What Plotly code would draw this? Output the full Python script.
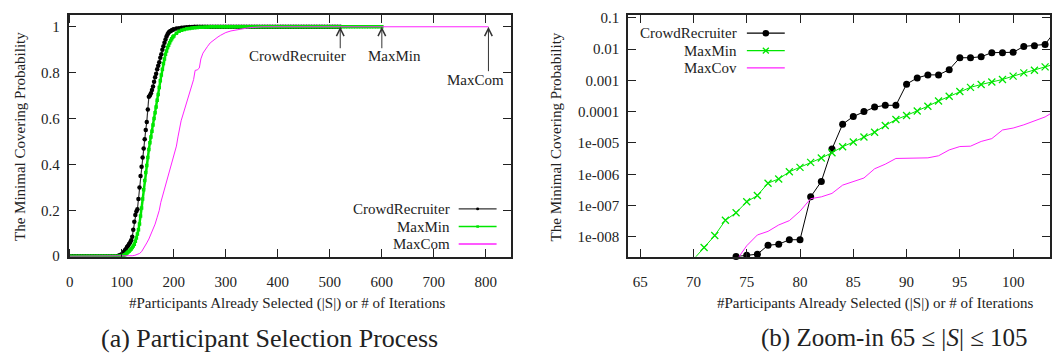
import plotly.graph_objects as go

# ---------------- panel (a): full selection process ----------------
cr_iter = [0, 5, 10, 15, 20, 25, 30, 35, 40, 45, 50, 55, 60, 65, 70, 75, 80, 85, 90,
           92, 94, 96, 98, 100, 102, 104, 106, 108, 110, 112, 114, 116, 118, 120,
           122, 124, 126, 128, 130, 132, 134, 136, 138, 140, 142, 144, 146, 148, 150,
           152, 154, 156, 158, 160, 162, 164, 166, 168, 170, 172, 174, 176, 178, 180,
           182, 184, 186, 188, 190, 192, 194, 196, 198, 200, 205, 210, 215, 220, 225,
           230, 235, 240, 245, 250, 255, 260, 265, 270, 275, 280, 285, 290, 295, 300,
           305, 310, 315, 320, 325, 330, 335, 340, 345, 350, 355, 360, 365, 370, 375,
           380, 385, 390, 395, 400, 405, 410, 415, 420, 425, 430, 435, 440, 445, 450,
           455, 460, 465, 470, 475, 480, 485, 490, 495, 500, 505, 510, 515, 520]
cr_prob = [0, 0, 0, 0, 0, 0, 0, 0, 0, 0, 0, 0, 0, 0, 0, 0, 0, 0, 0,
           0.001, 0.002, 0.004, 0.006, 0.008, 0.013, 0.019, 0.026, 0.032, 0.040, 0.046, 0.053, 0.060, 0.070, 0.085,
           0.115, 0.150, 0.180, 0.195, 0.205, 0.250, 0.300, 0.350, 0.390, 0.430, 0.470, 0.510, 0.550, 0.585, 0.640,
           0.695, 0.700, 0.710, 0.725, 0.740, 0.760, 0.780, 0.795, 0.815, 0.830, 0.845, 0.865, 0.880, 0.900, 0.915,
           0.930, 0.945, 0.958, 0.968, 0.975, 0.979, 0.982, 0.985, 0.987, 0.989, 0.992, 0.994, 0.996, 0.997, 0.998,
           0.999, 0.999, 1.0, 1.0, 1.0, 1.0, 1.0, 1.0, 1.0, 1.0, 1.0, 1.0, 1.0, 1.0, 1.0,
           1.0, 1.0, 1.0, 1.0, 1.0, 1.0, 1.0, 1.0, 1.0, 1.0, 1.0, 1.0, 1.0, 1.0, 1.0,
           1.0, 1.0, 1.0, 1.0, 1.0, 1.0, 1.0, 1.0, 1.0, 1.0, 1.0, 1.0, 1.0, 1.0, 1.0,
           1.0, 1.0, 1.0, 1.0, 1.0, 1.0, 1.0, 1.0, 1.0, 1.0, 1.0, 1.0, 1.0, 1.0]

mm_iter = [0, 5, 10, 15, 20, 25, 30, 35, 40, 45, 50, 55, 60, 65, 70, 75, 80, 85, 90, 95,
           98, 100, 102, 104, 106, 108, 110, 112, 114, 116, 118, 120, 122, 124, 126, 128,
           130, 132, 134, 136, 138, 140, 142, 144, 146, 148, 150, 152, 154, 156, 158, 160,
           162, 164, 166, 168, 170, 172, 174, 176, 178, 180, 182, 184, 186, 188, 190, 192,
           194, 196, 198, 200, 205, 210, 215, 220, 225, 230, 235, 240, 245, 250, 255, 260,
           265, 270, 275, 280, 285, 290, 295, 300, 305, 310, 315, 320, 325, 330, 335, 340,
           345, 350, 355, 360, 365, 370, 375, 380, 385, 390, 395, 400, 405, 410, 415, 420,
           425, 430, 435, 440, 445, 450, 455, 460, 465, 470, 475, 480, 485, 490, 495, 500,
           505, 510, 515, 520, 525, 530, 535, 540, 545, 550, 555, 560, 565, 570, 575, 580,
           585, 590, 595, 600]
mm_prob = [0, 0, 0, 0, 0, 0, 0, 0, 0, 0, 0, 0, 0, 0, 0, 0, 0, 0, 0, 0,
           0.001, 0.0014, 0.0025, 0.004, 0.007, 0.010, 0.014, 0.018, 0.022, 0.027, 0.032, 0.038, 0.045, 0.052, 0.065, 0.080,
           0.097, 0.115, 0.140, 0.175, 0.210, 0.250, 0.290, 0.330, 0.365, 0.395, 0.430, 0.465, 0.495, 0.520, 0.545, 0.572,
           0.600, 0.625, 0.650, 0.680, 0.705, 0.735, 0.765, 0.790, 0.815, 0.840, 0.860, 0.880, 0.895, 0.910, 0.920, 0.930,
           0.940, 0.948, 0.955, 0.960, 0.972, 0.980, 0.985, 0.988, 0.991, 0.993, 0.995, 0.996, 0.997, 0.998, 0.998, 0.999,
           0.999, 1.0, 1.0, 1.0, 1.0, 1.0, 1.0, 1.0, 1.0, 1.0, 1.0, 1.0, 1.0, 1.0, 1.0, 1.0,
           1.0, 1.0, 1.0, 1.0, 1.0, 1.0, 1.0, 1.0, 1.0, 1.0, 1.0, 1.0, 1.0, 1.0, 1.0, 1.0,
           1.0, 1.0, 1.0, 1.0, 1.0, 1.0, 1.0, 1.0, 1.0, 1.0, 1.0, 1.0, 1.0, 1.0, 1.0, 1.0,
           1.0, 1.0, 1.0, 1.0, 1.0, 1.0, 1.0, 1.0, 1.0, 1.0, 1.0, 1.0, 1.0, 1.0, 1.0, 1.0,
           1.0, 1.0, 1.0, 1.0]

mc_iter = [0, 100, 110, 120, 125, 130, 134, 138, 142, 145, 148, 152, 156, 160, 164, 168,
           172, 175, 178, 182, 186, 190, 194, 198, 202, 205, 208, 211, 214, 218, 222, 226,
           230, 234, 238, 241, 245, 249, 252, 256, 260, 265, 270, 275, 280, 285, 290, 300,
           310, 320, 330, 340, 350, 360, 370, 805]
mc_prob = [0, 0, 0.0005, 0.002, 0.004, 0.008, 0.012, 0.020, 0.033, 0.045, 0.058, 0.075, 0.095, 0.115, 0.140, 0.170,
           0.200, 0.235, 0.260, 0.290, 0.320, 0.350, 0.385, 0.420, 0.455, 0.480, 0.520, 0.560, 0.590, 0.620, 0.650, 0.680,
           0.710, 0.740, 0.770, 0.810, 0.812, 0.820, 0.860, 0.885, 0.900, 0.915, 0.930, 0.940, 0.948, 0.956, 0.963, 0.975,
           0.982, 0.987, 0.991, 0.994, 0.997, 0.999, 1.0, 1.0]

# iteration at which each method stops (marked with arrows)
stop_labels = ["CrowdRecruiter", "MaxMin", "MaxCom"]
stop_iters = [520, 600, 805]

x_ticks_a = [0, 100, 200, 300, 400, 500, 600, 700, 800]
y_ticks_a = [0, 0.2, 0.4, 0.6, 0.8, 1]

# ---------------- panel (b): zoom-in 65 <= |S| <= 105 ----------------
zcr_iter = [74, 75, 76, 77, 78, 79, 80, 81, 82, 83, 84, 85, 86, 87, 88, 89,
            90, 91, 92, 93, 94, 95, 96, 97, 98, 99, 100, 101, 102, 103, 104]
zcr_prob = [2.35e-9, 2.6e-9, 2.8e-9, 5.4e-9, 5.8e-9, 8.1e-9, 8.1e-9, 1.9e-7, 5.9e-7, 6.4e-6, 4.0e-5,
            7.0e-5, 1.02e-4, 1.4e-4, 1.6e-4, 1.6e-4, 7.6e-4, 1.2e-3, 1.5e-3, 1.5e-3, 2.2e-3,
            5.3e-3, 5.3e-3, 5.7e-3, 7.7e-3, 7.7e-3, 7.9e-3, 1.22e-2, 1.28e-2, 1.41e-2, 4.0e-2]

zmm_iter = [70, 71, 72, 73, 74, 75, 76, 77, 78, 79, 80, 81, 82, 83, 84, 85, 86,
            87, 88, 89, 90, 91, 92, 93, 94, 95, 96, 97, 98, 99, 100, 101, 102, 103, 104]
zmm_prob = [1.9e-9, 4.6e-9, 1.1e-8, 3.4e-8, 5.9e-8, 1.32e-7, 2.1e-7, 5.2e-7, 7.1e-7, 1.2e-6, 1.66e-6,
            2.4e-6, 3.3e-6, 4.9e-6, 7.6e-6, 1.07e-5, 1.55e-5, 2.2e-5, 3.6e-5, 5.6e-5, 7.6e-5,
            1.05e-4, 1.5e-4, 2.2e-4, 3.1e-4, 4.4e-4, 6.0e-4, 7.4e-4, 8.9e-4, 1.07e-3, 1.37e-3,
            1.74e-3, 2.1e-3, 2.7e-3, 3.4e-3]

zmc_iter = [74, 75, 76, 77, 78, 79, 80, 81, 82, 83, 84, 85, 86, 87, 88, 89,
            90, 91, 92, 93, 94, 95, 96, 97, 98, 99, 100, 101, 102, 103, 104]
zmc_prob = [1.7e-9, 5.2e-9, 1.15e-8, 1.5e-8, 2.4e-8, 3.3e-8, 6.6e-8, 1.66e-7, 1.9e-7, 2.45e-7, 4.5e-7,
            6.0e-7, 7.6e-7, 1.5e-6, 2.1e-6, 3.2e-6, 3.3e-6, 3.3e-6, 3.35e-6, 3.9e-6, 6.0e-6,
            7.7e-6, 7.9e-6, 1.12e-5, 1.38e-5, 2.6e-5, 3.0e-5, 3.8e-5, 5.0e-5, 6.8e-5, 1.1e-4]

x_ticks_b = [65, 70, 75, 80, 85, 90, 95, 100]
y_ticks_b = [1e-1, 1e-2, 1e-3, 1e-4, 1e-5, 1e-6, 1e-7, 1e-8]
y_ticktext_b = ["0.1", "0.01", "0.001", "0.0001", "1e-005", "1e-006", "1e-007", "1e-008"]

# ---------------- styling ----------------
W, H = 1052, 354
FONT = "'Liberation Serif', 'Times New Roman', Times, serif"
INK = "#222222"
BLACK = "#000000"
GREEN = "#00e600"
MAGENTA = "#ff22ff"


def px(x):
    return x / W


def py(y):
    return 1 - y / H


fig = go.Figure()

# panel (a)
fig.add_trace(go.Scatter(x=cr_iter, y=cr_prob, mode="lines+markers", xaxis="x", yaxis="y",
                         line=dict(color="#333333", width=1.2),
                         marker=dict(symbol="circle", size=4.5, color=BLACK), showlegend=False))
fig.add_trace(go.Scatter(x=mm_iter, y=mm_prob, mode="lines+markers", xaxis="x", yaxis="y",
                         line=dict(color=GREEN, width=2.5),
                         marker=dict(symbol="square", size=3.5, color=GREEN), showlegend=False))
fig.add_trace(go.Scatter(x=mc_iter, y=mc_prob, mode="lines", xaxis="x", yaxis="y",
                         line=dict(color=MAGENTA, width=1), showlegend=False))

# panel (b)
fig.add_trace(go.Scatter(x=zcr_iter, y=zcr_prob, mode="lines+markers", xaxis="x2", yaxis="y2",
                         line=dict(color=BLACK, width=1), cliponaxis=False,
                         marker=dict(symbol="circle", size=7, color=BLACK), showlegend=False))
fig.add_trace(go.Scatter(x=zmm_iter, y=zmm_prob, mode="lines+markers", xaxis="x2", yaxis="y2",
                         line=dict(color=GREEN, width=1),
                         marker=dict(symbol="x-thin", size=7, line=dict(color=GREEN, width=1.3)),
                         showlegend=False))
fig.add_trace(go.Scatter(x=zmc_iter, y=zmc_prob, mode="lines", xaxis="x2", yaxis="y2",
                         line=dict(color=MAGENTA, width=1), showlegend=False))

axis_common = dict(showgrid=False, zeroline=False, showline=True, linecolor=INK, linewidth=1.5,
                   mirror="allticks", ticks="inside", ticklen=8, tickwidth=1, tickcolor=INK,
                   tickfont=dict(family=FONT, size=15, color=INK))

y_dom = [py(261.3), py(10.7)]
fig.update_layout(
    width=W, height=H, margin=dict(l=0, r=0, t=0, b=0),
    paper_bgcolor="white", plot_bgcolor="white",
    font=dict(family=FONT, color=INK),
    xaxis=dict(domain=[px(66.7), px(510)], range=[-2.5, 847.5], tickvals=x_ticks_a,
               anchor="y", ticklabelstandoff=11, **axis_common),
    yaxis=dict(domain=y_dom, range=[-0.002, 1.05], tickvals=y_ticks_a,
               anchor="x", ticklabelstandoff=4, **axis_common),
    xaxis2=dict(domain=[px(627.7), px(1051)], range=[63.85, 103.46], tickvals=x_ticks_b,
                anchor="y2", ticklabelstandoff=11, **axis_common),
    yaxis2=dict(domain=y_dom, type="log", range=[-8.634, -0.92], tickvals=y_ticks_b,
                ticktext=y_ticktext_b, anchor="x2", ticklabelstandoff=4, **axis_common),
)

annotations = []
shapes = []


def text_at(x, y, s, size=15, xanchor="center", angle=0):
    annotations.append(dict(x=px(x), y=py(y), xref="paper", yref="paper", text=s,
                            showarrow=False, xanchor=xanchor, yanchor="middle",
                            textangle=angle, font=dict(family=FONT, size=size, color=INK)))


# stop markers in panel (a)
label_pos = [(296.7, 53.3, 0.90), (394, 53.3, 0.90), (475, 78.3, 0.80)]
for name, it, (lx, ly, tail) in zip(stop_labels, stop_iters, label_pos):
    annotations.append(dict(x=it, y=1.0, xref="x", yref="y", ax=it, ay=tail,
                            axref="x", ayref="y", text="", showarrow=True,
                            arrowhead=5, arrowsize=1.5, arrowwidth=1, arrowcolor="#333333",
                            standoff=0))
    text_at(lx, ly, name)

# custom legends (text on the left, sample on the right)
legend_a = [("CrowdRecruiter", "#333333", "dot"), ("MaxMin", GREEN, "square"), ("MaxCom", MAGENTA, None)]
for (name, col, mk), yy in zip(legend_a, [211.7, 230.0, 248.0]):
    text_at(451, yy, name, xanchor="right")
    shapes.append(dict(type="line", xref="paper", yref="paper", x0=px(458), x1=px(496),
                       y0=py(yy), y1=py(yy), line=dict(color=col, width=1.5 if mk != "dot" else 1.2)))
    if mk == "dot":
        shapes.append(dict(type="circle", xref="paper", yref="paper", x0=px(475.5), x1=px(478.5),
                           y0=py(yy + 1.5), y1=py(yy - 1.5), fillcolor=BLACK, line=dict(width=0)))
    elif mk == "square":
        shapes.append(dict(type="rect", xref="paper", yref="paper", x0=px(475.7), x1=px(478.3),
                           y0=py(yy + 1.3), y1=py(yy - 1.3), fillcolor=GREEN, line=dict(width=0)))

legend_b = [("CrowdRecruiter", BLACK, "dot"), ("MaxMin", GREEN, "x"), ("MaxCov", MAGENTA, None)]
for (name, col, mk), yy in zip(legend_b, [29.3, 47.3, 65.3]):
    text_at(739.3, yy, name, xanchor="right")
    shapes.append(dict(type="line", xref="paper", yref="paper", x0=px(747), x1=px(785),
                       y0=py(yy), y1=py(yy), line=dict(color=col, width=1.2)))
    if mk == "dot":
        shapes.append(dict(type="circle", xref="paper", yref="paper", x0=px(762.7), x1=px(769.3),
                           y0=py(yy + 3.3), y1=py(yy - 3.3), fillcolor=BLACK, line=dict(width=0)))
    elif mk == "x":
        for d in (1, -1):
            shapes.append(dict(type="line", xref="paper", yref="paper", x0=px(763), x1=px(769),
                               y0=py(yy + 3 * d), y1=py(yy - 3 * d), line=dict(color=GREEN, width=1.3)))

# axis titles
text_at(286, 310, "#Participants Already Selected (|S|) or # of Iterations")
text_at(875, 310, "#Participants Already Selected (|S|) or # of Iterations")
text_at(18, 136, "The Minimal Covering Probability", angle=-90)
text_at(556, 137, "The Minimal Covering Probability", angle=-90)

# sub-figure captions
text_at(268, 346, "(a) Participant Selection Process", size=26)
text_at(895, 346, "(b) Zoom-in 65 ≤ |<i>S</i>| ≤ 105", size=25)

fig.update_layout(annotations=annotations, shapes=shapes)
fig.write_html("out.html")
